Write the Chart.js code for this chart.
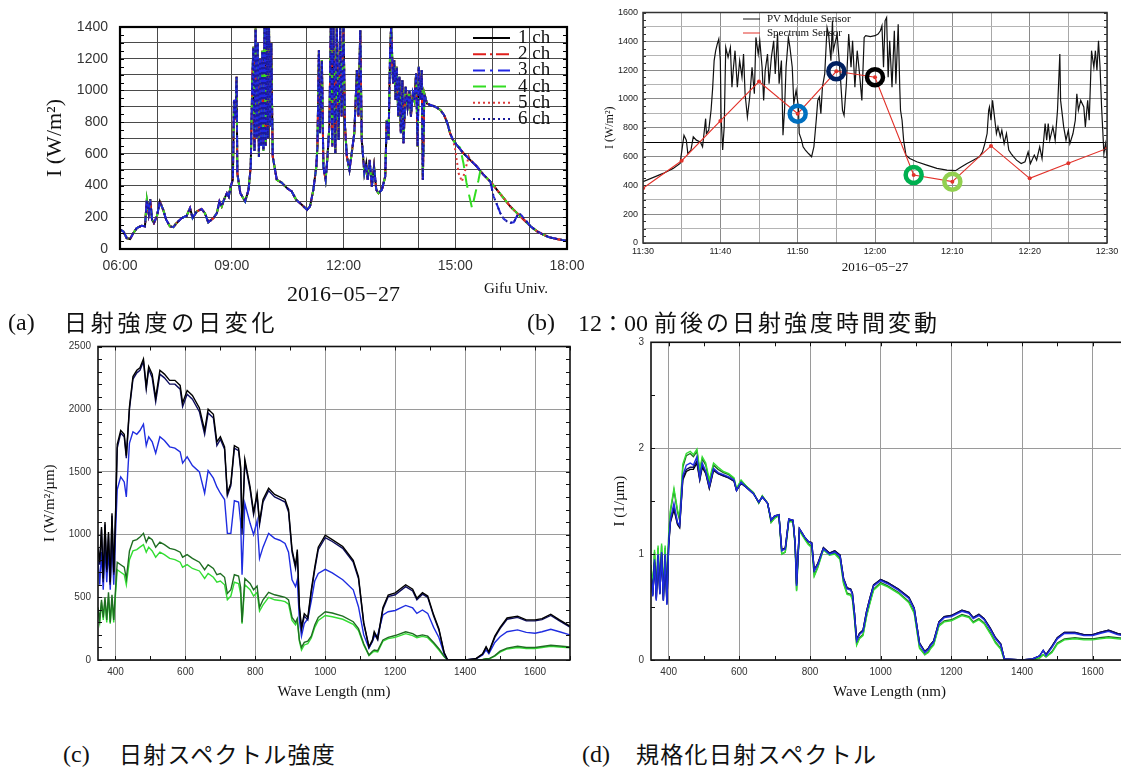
<!DOCTYPE html>
<html><head><meta charset="utf-8">
<script src="https://cdn.jsdelivr.net/npm/chart.js@4.4.0/dist/chart.umd.min.js"></script>
<style>
html,body{margin:0;padding:0;background:#fff;width:1121px;height:767px;overflow:hidden;position:relative;}
canvas{position:absolute;}
.t{position:absolute;white-space:nowrap;line-height:1;color:#111;}
.ser{font-family:"Liberation Serif","DejaVu Serif",serif;}
.jp{font-family:"Noto Sans CJK JP",sans-serif;}
</style></head><body>
<canvas id="ca" width="610" height="310" style="left:0;top:0"></canvas>
<canvas id="cb" width="546" height="290" style="left:575px;top:0"></canvas>
<canvas id="cc" width="580" height="380" style="left:0;top:330px"></canvas>
<canvas id="cd" width="580" height="380" style="left:560px;top:330px"></canvas>

<div class="t ser" style="left:484px;top:281px;font-size:15px">Gifu Univ.</div>
<div class="t ser" style="left:8px;top:310px;font-size:24px">(a)</div>
<div class="t jp" style="left:64px;top:310px;font-size:23px;letter-spacing:3.8px">日射強度の日変化</div>
<div class="t ser" style="left:527px;top:310px;font-size:24px">(b)</div>
<div class="t ser" style="left:578px;top:310px;font-size:24px">12<span class="jp" style="font-size:22px">：</span>00 <span class="jp" style="font-size:23px;letter-spacing:3px">前後の日射強度時間変動</span></div>
<div class="t ser" style="left:63px;top:742px;font-size:24px">(c)</div>
<div class="t jp" style="left:119px;top:742px;font-size:23px;letter-spacing:1.3px">日射スペクトル強度</div>
<div class="t ser" style="left:582px;top:742px;font-size:24px">(d)</div>
<div class="t jp" style="left:636px;top:742px;font-size:23px;letter-spacing:1.3px">規格化日射スペクトル</div>

<script>
// ---------------- Panel (a): daily irradiance, 6 channels ----------------
const aTime = [6.00,6.09,6.18,6.27,6.36,6.45,6.58,6.67,6.72,6.77,6.81,6.86,6.91,6.99,7.07,7.16,7.24,7.34,7.43,7.52,7.66,7.79,7.88,7.95,8.06,8.19,8.28,8.37,8.51,8.60,8.67,8.73,8.79,8.87,8.92,8.97,9.03,9.06,9.10,9.13,9.15,9.23,9.36,9.45,9.51,9.55,9.58,9.61,9.64,9.67,9.70,9.73,9.76,9.79,9.82,9.85,9.88,9.91,9.94,9.97,10.00,10.03,10.06,10.10,10.21,10.34,10.48,10.61,10.73,10.88,11.02,11.10,11.19,11.27,11.30,11.34,11.37,11.42,11.46,11.52,11.57,11.62,11.66,11.70,11.73,11.78,11.82,11.87,11.91,11.95,12.00,12.04,12.09,12.16,12.22,12.29,12.36,12.40,12.45,12.49,12.56,12.61,12.65,12.70,12.76,12.82,12.88,12.94,13.03,13.12,13.16,13.21,13.25,13.28,13.33,13.36,13.40,13.43,13.47,13.50,13.54,13.58,13.61,13.67,13.72,13.77,13.81,13.86,13.90,13.95,13.99,14.02,14.06,14.10,14.13,14.17,14.24,14.33,14.46,14.60,14.70,14.79,14.86,14.94,15.04,15.22,15.40,15.58,15.76,15.94,16.12,16.30,16.48,16.66,16.84,17.02,17.20,17.37,17.51,17.75,18.00];
const aBase = [122,111,69,63,101,132,147,143,310,226,315,185,164,205,300,247,185,143,138,164,195,210,258,195,237,252,226,168,195,226,300,268,310,352,331,394,436,940,814,1086,478,352,300,373,520,1044,1275,620,1390,700,1300,580,1200,650,1250,620,1410,650,1410,700,1410,772,1300,583,436,419,384,363,310,279,247,268,373,520,646,1254,730,1191,520,436,583,772,1410,646,1410,604,1410,688,1410,835,1410,772,583,499,604,730,1128,835,1380,688,478,541,436,562,394,520,373,352,373,457,814,688,1233,1410,1044,1191,940,1149,835,1086,730,1065,667,1023,898,1002,835,981,940,1107,646,1149,940,1128,436,981,918,908,898,877,845,793,730,688,656,604,562,520,468,426,373,321,268,226,185,143,111,90,75,62,52];
// channel-specific deviations
const aBlueDipTime = [15.94,16.03,16.12,16.21,16.30,16.39,16.48,16.57,16.64,16.70,16.77,16.84,16.93,17.02];
const aBlueDipVal  = [426,331,280,226,190,174,165,168,200,226,215,195,170,143];
const aGreenDipTime = [15.04,15.13,15.22,15.30,15.36,15.45,15.54,15.62,15.67,15.76];
const aGreenDipVal  = [656,640,541,420,352,258,352,430,489,468];
const aRedDipTime = [14.94,15.00,15.09,15.18,15.27,15.36,15.40];
const aRedDipVal  = [688,625,478,426,499,583,562];
const aChannels = ['1 ch','2 ch','3 ch','4 ch','5 ch','6 ch'];
const aHourTicks = [6,7,8,9,10,11,12,13,14,15,16,17,18];
const aValTicks = [0,100,200,300,400,500,600,700,800,900,1000,1100,1200,1300,1400];

// ---------------- Panel (b): around 12:00 ----------------
const bTime = [0,2.6,3.9,4.8,5.0,5.3,5.6,5.8,6.2,6.5,6.9,7.4,7.7,8.1,8.2,8.5,8.8,9.0,9.2,9.4,9.6,9.8,10.0,10.1,10.3,10.5,10.7,11.0,11.3,11.5,11.7,11.9,12.2,12.5,12.8,13.0,13.2,13.5,13.8,14.1,14.4,14.6,14.9,15.1,15.4,15.6,15.8,16.1,16.3,16.6,16.9,17.1,17.4,17.6,17.9,18.1,18.3,18.5,18.8,19.0,19.3,19.5,19.8,20.1,20.2,20.5,20.7,21.0,21.4,21.8,22.1,22.4,22.6,22.8,23.0,23.2,23.5,23.8,24.0,24.3,24.5,24.6,25.1,25.5,25.8,26.0,26.3,26.6,26.9,27.1,27.4,27.7,28.0,28.3,28.6,28.8,29.4,30.0,30.4,30.7,30.9,31.1,31.3,31.5,31.7,31.9,32.2,32.5,32.7,33.0,33.2,33.3,33.5,33.7,34.0,34.5,35.4,36.7,38.0,39.3,40.4,41.2,41.9,42.7,43.5,43.9,44.2,44.5,44.7,44.8,45.0,45.2,45.4,45.7,45.9,46.2,46.4,46.7,47.0,47.3,47.6,47.9,48.3,48.9,49.4,49.8,50.1,50.6,50.9,51.3,51.6,52.0,52.2,52.4,52.6,53.0,53.3,53.6,53.9,54.0,54.4,54.7,55.0,55.2,55.6,55.9,56.1,56.3,56.6,57.0,57.2,57.5,57.7,58.0,58.3,58.5,58.7,58.9,59.1,59.3,59.6,59.8,60.0];
const bPV = [426,483,518,552,633,748,714,621,645,737,714,702,668,863,760,783,921,1070,1266,1335,1381,1416,1266,875,645,806,1358,1289,1358,1082,1220,1335,1082,1266,1151,1312,1036,875,1013,1220,1036,1427,1312,1404,1220,990,1197,1312,1105,1289,1404,1174,1450,1105,1266,748,921,1220,1427,1358,1220,967,1059,944,760,714,668,645,621,599,668,852,990,1013,898,1082,1174,1496,1450,1266,1542,1335,1450,1174,921,886,1105,1450,1220,1404,1082,1335,1174,990,1427,1439,1432,1439,1450,1473,1508,1220,1542,1565,1151,1404,1082,1473,1105,1519,1082,921,852,714,610,587,564,541,518,506,502,529,552,575,599,633,690,760,921,944,852,990,898,760,806,737,783,690,760,645,621,599,575,552,564,633,552,610,575,668,587,829,714,829,714,806,714,921,1312,990,806,714,783,690,760,852,1036,921,990,944,806,990,852,1335,1220,1335,1197,1404,1220,944,621,690,599];
const bSpecTime = [0,5,10,15,20,25,30,35,40,45,50,55,60];
const bSpec = [380,571,847,1121,898,1192,1151,472,426,674,449,553,656];
const bCircleTime = [20,25,30,35,40];
const bCircleColor = ['#0070c0','#002060','#000000','#00b050','#92d050'];
const bMinuteTicks = [0,5,10,15,20,25,30,35,40,45,50,55,60];
const bValTicks = [0,100,200,300,400,500,600,700,800,900,1000,1100,1200,1300,1400,1500,1600];

// ---------------- Panels (c) and (d): spectra ----------------
const wl = [350,355,360,365,370,375,380,385,390,395,400,405,415,425,431,440,450,461,470,480,488,495,505,515,527,540,555,570,585,592,605,620,640,655,665,680,690,700,712,720,730,740,752,758,762,770,785,795,805,812,822,838,855,870,885,895,905,915,920,926,932,940,950,960,970,980,1000,1020,1050,1080,1095,1110,1125,1135,1140,1150,1165,1180,1200,1230,1250,1262,1278,1293,1310,1325,1340,1350,1400,1430,1450,1460,1468,1485,1500,1520,1550,1575,1600,1620,1645,1670,1700];
const cBlack = [900,780,1060,650,1100,720,1020,620,1170,700,1150,1720,1830,1800,1630,2020,2260,2310,2330,2400,2180,2340,2280,2090,2310,2280,2230,2230,2190,2050,2150,2110,2010,1830,2000,1960,1740,1780,1700,1330,1410,1710,1690,1540,1050,1600,1380,1180,1330,1100,1280,1370,1320,1300,1280,1200,880,750,880,430,260,370,340,560,740,900,995,960,905,795,665,300,106,160,226,170,420,518,535,600,565,492,537,510,360,250,60,0,0,10,50,105,65,190,260,335,350,320,320,330,365,320,270];
const cNavy = [880,760,1040,620,1080,700,1000,600,1150,680,1130,1690,1810,1780,1610,2000,2240,2290,2310,2380,2160,2320,2250,2060,2280,2250,2200,2200,2160,2020,2120,2080,1980,1800,1970,1930,1710,1760,1680,1310,1390,1690,1670,1520,1000,1580,1360,1160,1310,1080,1260,1350,1300,1280,1260,1180,860,730,860,410,240,350,320,540,720,880,975,945,890,780,650,290,100,150,210,160,405,505,520,585,550,480,525,500,350,240,55,0,0,8,45,100,60,180,250,325,340,312,312,322,355,312,262];
const cBlue = [800,600,860,560,900,620,880,560,960,600,1000,1360,1460,1420,1300,1730,1820,1800,1830,1880,1710,1780,1740,1650,1780,1750,1700,1690,1660,1570,1620,1550,1500,1330,1510,1450,1380,1330,1280,1010,1010,1270,1260,1100,680,1250,1090,1000,1110,810,900,1010,970,955,930,860,640,585,640,320,190,290,330,470,630,690,723,695,640,560,425,200,93,150,186,200,360,385,395,435,415,372,399,372,260,180,50,0,0,8,40,80,50,140,185,225,240,220,213,225,245,225,200];
const cGreen = [420,320,480,340,500,320,540,300,520,320,560,780,760,740,650,870,950,960,980,1010,940,980,960,900,940,920,890,880,860,820,840,810,780,720,760,730,680,690,660,530,560,680,670,580,300,650,610,560,590,420,480,540,520,510,500,480,340,300,330,160,100,140,150,190,280,340,385,375,350,305,250,130,40,70,80,75,160,180,195,225,210,190,200,190,140,90,30,0,0,0,5,10,10,35,70,95,110,100,100,108,118,112,105];
const cLime = [400,300,460,320,470,300,500,290,480,300,520,720,700,680,600,800,870,880,900,920,860,900,870,820,860,840,810,800,780,740,760,730,710,650,690,660,620,630,600,480,510,620,610,530,290,600,560,510,540,390,440,500,480,475,465,445,315,280,310,150,80,120,130,175,260,315,355,345,325,285,235,120,35,60,70,65,150,170,180,210,195,178,188,178,130,80,25,0,0,0,3,8,8,30,62,88,100,92,92,100,110,104,98];
const dBlue = [0.82,0.60,0.95,0.56,1.00,0.62,1.02,0.56,1.00,0.52,1.10,1.33,1.48,1.30,1.27,1.74,1.84,1.86,1.84,1.92,1.72,1.86,1.78,1.64,1.81,1.77,1.75,1.73,1.70,1.60,1.68,1.63,1.57,1.49,1.54,1.48,1.32,1.36,1.37,1.03,1.05,1.33,1.32,1.10,0.70,1.24,1.16,1.12,1.10,0.84,0.90,1.05,1.00,1.02,0.98,0.76,0.67,0.66,0.62,0.43,0.18,0.24,0.27,0.45,0.58,0.70,0.75,0.72,0.66,0.58,0.48,0.15,0.07,0.10,0.13,0.17,0.35,0.40,0.41,0.46,0.44,0.39,0.42,0.38,0.29,0.20,0.14,0.01,0.00,0.01,0.04,0.09,0.04,0.12,0.20,0.25,0.25,0.23,0.23,0.25,0.27,0.24,0.22];
const dBlack = [0.80,0.62,0.92,0.58,0.98,0.63,1.00,0.57,0.98,0.54,1.08,1.30,1.42,1.28,1.25,1.70,1.78,1.80,1.80,1.86,1.70,1.82,1.76,1.62,1.79,1.76,1.74,1.72,1.69,1.60,1.67,1.63,1.57,1.49,1.54,1.48,1.32,1.36,1.37,1.04,1.06,1.33,1.32,1.10,0.72,1.24,1.16,1.12,1.11,0.85,0.91,1.06,1.01,1.03,0.99,0.77,0.68,0.67,0.63,0.44,0.19,0.25,0.28,0.46,0.59,0.71,0.76,0.73,0.67,0.59,0.49,0.16,0.08,0.11,0.14,0.18,0.36,0.41,0.42,0.47,0.45,0.40,0.43,0.39,0.30,0.21,0.15,0.01,0.00,0.01,0.04,0.09,0.05,0.13,0.21,0.26,0.26,0.24,0.24,0.26,0.28,0.25,0.23];
const dNavy = [0.81,0.61,0.93,0.57,0.99,0.62,1.01,0.56,0.99,0.53,1.09,1.31,1.44,1.29,1.26,1.72,1.80,1.82,1.82,1.88,1.71,1.84,1.77,1.63,1.80,1.76,1.74,1.72,1.69,1.60,1.67,1.63,1.57,1.49,1.54,1.48,1.32,1.36,1.37,1.04,1.05,1.33,1.32,1.10,0.71,1.24,1.16,1.12,1.10,0.85,0.91,1.06,1.01,1.03,0.99,0.77,0.68,0.67,0.63,0.44,0.19,0.25,0.28,0.46,0.59,0.71,0.76,0.73,0.67,0.59,0.49,0.16,0.08,0.11,0.14,0.18,0.36,0.41,0.42,0.47,0.45,0.40,0.43,0.39,0.30,0.21,0.15,0.01,0.00,0.01,0.04,0.09,0.05,0.13,0.21,0.26,0.26,0.24,0.24,0.26,0.28,0.25,0.23];
const dGreen = [0.88,0.66,1.02,0.62,1.06,0.66,1.08,0.60,1.06,0.56,1.16,1.40,1.60,1.40,1.32,1.82,1.93,1.95,1.92,1.97,1.78,1.90,1.84,1.68,1.84,1.80,1.77,1.75,1.71,1.61,1.69,1.64,1.58,1.48,1.55,1.48,1.30,1.34,1.37,1.00,1.02,1.32,1.31,1.08,0.66,1.23,1.15,1.10,1.07,0.80,0.88,1.05,1.00,1.01,0.96,0.73,0.63,0.62,0.58,0.39,0.15,0.21,0.24,0.42,0.55,0.67,0.73,0.70,0.64,0.55,0.45,0.12,0.05,0.08,0.11,0.15,0.33,0.37,0.38,0.43,0.41,0.36,0.39,0.35,0.26,0.17,0.11,0.00,0.00,0.00,0.02,0.05,0.03,0.08,0.16,0.20,0.21,0.20,0.20,0.21,0.22,0.21,0.20];
const dLime = [0.90,0.68,1.04,0.64,1.08,0.68,1.10,0.62,1.08,0.58,1.18,1.42,1.62,1.42,1.34,1.85,1.95,1.97,1.94,1.99,1.80,1.92,1.86,1.70,1.86,1.82,1.78,1.76,1.72,1.62,1.70,1.64,1.58,1.48,1.55,1.48,1.30,1.34,1.36,1.00,1.02,1.31,1.30,1.07,0.65,1.22,1.14,1.09,1.06,0.79,0.87,1.04,0.99,1.00,0.95,0.72,0.62,0.61,0.57,0.38,0.14,0.20,0.23,0.41,0.54,0.66,0.72,0.69,0.63,0.54,0.44,0.11,0.05,0.07,0.10,0.14,0.32,0.36,0.37,0.42,0.40,0.35,0.38,0.34,0.25,0.16,0.10,0.00,0.00,0.00,0.02,0.05,0.03,0.07,0.15,0.19,0.20,0.19,0.19,0.20,0.21,0.20,0.19];
const wlTicks = [400,600,800,1000,1200,1400,1600];
const cValTicks = [0,500,1000,1500,2000,2500];
const dValTicks = [0,1,2,3];

// ---------------- helpers ----------------
const SANS = 'Liberation Sans', SERIF = 'Liberation Serif';
function pts(xs, ys){ return xs.map((x,i)=>({x:x, y:ys[i]})); }
function withSegment(bt, bv, st, sv){
  const t0 = st[0], t1 = st[st.length-1], out = [];
  bt.forEach((t,i)=>{ if (t < t0) out.push({x:t, y:bv[i]}); });
  st.forEach((t,i)=>out.push({x:t, y:sv[i]}));
  bt.forEach((t,i)=>{ if (t > t1) out.push({x:t, y:bv[i]}); });
  return out;
}
function fixTicks(list){ return s => { s.ticks = list.map(v=>({value:v})); }; }
function fitY(w){ return s => { s.width = w; s.paddingTop = 0; s.paddingBottom = 0; }; }
function fitX(h){ return s => { s.height = h; s.paddingLeft = 0; s.paddingRight = 0; }; }

const framePlugin = {
  id: 'frame',
  afterDatasetsDraw(chart, args, o){
    const {ctx, chartArea:a, scales} = chart;
    ctx.save();
    ctx.strokeStyle = o.color; ctx.lineWidth = o.width;
    ctx.strokeRect(a.left, a.top, a.right - a.left, a.bottom - a.top);
    ctx.lineWidth = 1;
    const L = o.len || 4;
    if (o.yMinor){
      const ys = scales.y;
      for (let v = ys.min; v <= ys.max + 1e-9; v += o.yMinor){
        const y = Math.round(ys.getPixelForValue(v)) + 0.5;
        ctx.beginPath();
        ctx.moveTo(a.left, y); ctx.lineTo(a.left + L, y);
        ctx.moveTo(a.right, y); ctx.lineTo(a.right - L, y);
        ctx.stroke();
      }
    }
    if (o.xMinor){
      const xs = scales.x;
      const start = Math.ceil(xs.min / o.xMinor) * o.xMinor;
      for (let v = start; v <= xs.max + 1e-9; v += o.xMinor){
        const x = Math.round(xs.getPixelForValue(v)) + 0.5;
        ctx.beginPath();
        ctx.moveTo(x, a.top); ctx.lineTo(x, a.top + L);
        ctx.moveTo(x, a.bottom); ctx.lineTo(x, a.bottom - L);
        ctx.stroke();
      }
    }
    ctx.restore();
  }
};

const lineLegend = {
  id: 'lineLegend',
  afterDatasetsDraw(chart, args, o){
    if (o.phase !== 'after') return;
    drawLegend(chart, o);
  },
  beforeDatasetsDraw(chart, args, o){
    if (o.phase !== 'before') return;
    drawLegend(chart, o);
  }
};
function drawLegend(chart, o){
  const ctx = chart.ctx;
  ctx.save();
  ctx.font = o.font;
  ctx.textBaseline = 'middle';
  o.items.forEach((idx, k) => {
    const ds = chart.data.datasets[idx];
    const y = o.y0 + k * o.dy;
    ctx.strokeStyle = ds.borderColor;
    ctx.lineWidth = o.lw || ds.borderWidth;
    ctx.setLineDash(ds.borderDash || []);
    ctx.beginPath(); ctx.moveTo(o.x0, y); ctx.lineTo(o.x1, y); ctx.stroke();
    ctx.setLineDash([]);
    ctx.fillStyle = o.textColor || '#111';
    ctx.fillText(ds.label, o.tx, y + (o.dyText || 0));
  });
  ctx.restore();
}

const base = {
  responsive:false, animation:false, devicePixelRatio:1, events:[],
};

// ---------------- chart (a) ----------------
const aStyles = [
  {c:'#000000', d:[], o:6},
  {c:'#e0201c', d:[13,4,2,4], o:5},
  {c:'#2228e6', d:[12,5,3,5], o:2},
  {c:'#33dd22', d:[13,7], o:4},
  {c:'#dd3a3a', d:[2,3], o:3},
  {c:'#1a1a9a', d:[2,3], o:1},
];
const aData = [
  pts(aTime, aBase),
  pts(aTime, aBase),
  withSegment(aTime, aBase, aBlueDipTime, aBlueDipVal),
  withSegment(aTime, aBase, aGreenDipTime, aGreenDipVal),
  withSegment(aTime, aBase, aRedDipTime, aRedDipVal),
  withSegment(aTime, aBase, aBlueDipTime, aBlueDipVal),
];
new Chart(document.getElementById('ca'), {
  type:'line',
  data:{ datasets: aChannels.map((name,i)=>({
    label:name, data:aData[i], borderColor:aStyles[i].c, borderDash:aStyles[i].d,
    borderWidth:2, pointRadius:0, tension:0, order:aStyles[i].o, fill:false
  }))},
  options:Object.assign({}, base, {
    layout:{padding:{left:0, top:27, right:43, bottom:0}},
    scales:{
      x:{type:'linear', min:6, max:18, afterBuildTicks:fixTicks(aHourTicks), afterFit:fitX(61),
        grid:{color:'#4a4a4a', lineWidth:1, drawTicks:false}, border:{display:false},
        ticks:{autoSkip:false, maxRotation:0, padding:9, color:'#333', font:{family:SANS, size:14},
          callback:v => (v % 3 === 0) ? String(v).padStart(2,'0') + ':00' : ''},
        title:{display:true, text:'2016\u221205\u221227', color:'#111', font:{family:SERIF, size:22}, padding:{top:0, bottom:2}}
      },
      y:{type:'linear', min:0, max:1400, afterBuildTicks:fixTicks(aValTicks), afterFit:fitY(120),
        grid:{color:'#4a4a4a', lineWidth:1, drawTicks:false}, border:{display:false},
        ticks:{autoSkip:false, padding:12, color:'#333', font:{family:SANS, size:14},
          callback:v => (v % 200 === 0) ? String(v) : ''},
        title:{display:true, text:'I (W/m\u00b2)', color:'#111', font:{family:SERIF, size:22}, padding:{top:42, bottom:0}}
      }
    },
    plugins:{ legend:{display:false}, tooltip:{enabled:false},
      frame:{color:'#000', width:2.2, yMinor:50, len:4},
      lineLegend:{phase:'after', items:[0,1,2,3,4,5], x0:473, x1:510, tx:518, y0:38, dy:16.2, font:'19px "Liberation Serif"', lw:2}
    }
  }),
  plugins:[framePlugin, lineLegend]
});

// ---------------- chart (b) ----------------
function clock(m){ const t = 11*60 + 30 + m; return Math.floor(t/60) + ':' + String(t%60).padStart(2,'0'); }
const bCircleVal = bCircleTime.map(t => bSpec[bSpecTime.indexOf(t)]);
new Chart(document.getElementById('cb'), {
  type:'line',
  data:{ datasets:[
    {label:'PV Module Sensor', data:pts(bTime, bPV), borderColor:'#111', borderWidth:1.2, pointRadius:0, tension:0, order:3},
    {label:'Spectrum Sensor', data:pts(bSpecTime, bSpec), borderColor:'#e2332b', borderWidth:1.1, pointRadius:2, pointBorderWidth:0, pointBackgroundColor:'#e2332b', tension:0, order:2},
    {label:'marks', data:pts(bCircleTime, bCircleVal), showLine:false, pointRadius:8, pointBorderWidth:4.5,
      pointBorderColor:bCircleColor, pointBackgroundColor:'rgba(0,0,0,0)', order:1}
  ]},
  options:Object.assign({}, base, {
    layout:{padding:{left:0, top:12, right:14, bottom:0}},
    scales:{
      x:{type:'linear', min:0, max:60, afterBuildTicks:fixTicks(bMinuteTicks), afterFit:fitX(47),
        grid:{color:ctx => (ctx.tick && ctx.tick.value % 10 === 0) ? '#8a8a8a' : '#a8a8a8', lineWidth:1, drawTicks:false}, border:{display:false},
        ticks:{autoSkip:false, maxRotation:0, padding:3, color:'#222', font:{family:SANS, size:9},
          callback:v => (v % 10 === 0) ? clock(v) : ''},
        title:{display:true, text:'2016\u221205\u221227', color:'#111', font:{family:SERIF, size:13}, padding:{top:0, bottom:15}}
      },
      y:{type:'linear', min:0, max:1600, afterBuildTicks:fixTicks(bValTicks), afterFit:fitY(68),
        grid:{color:ctx => { const v = ctx.tick ? ctx.tick.value : 0; return v === 700 ? '#000' : (v % 200 === 0 ? '#8a8a8a' : '#b4b4b4'); }, lineWidth:1, drawTicks:false}, border:{display:false},
        ticks:{autoSkip:false, padding:5, color:'#222', font:{family:SANS, size:9},
          callback:v => (v % 200 === 0) ? String(v) : ''},
        title:{display:true, text:'I (W/m\u00b2)', color:'#111', font:{family:SERIF, size:12}, padding:{top:28, bottom:0}}
      }
    },
    plugins:{ legend:{display:false}, tooltip:{enabled:false},
      frame:{color:'#333', width:1.5, yMinor:50, len:3},
      lineLegend:{phase:'before', items:[0,1], x0:168, x1:185, tx:192, y0:19, dy:14, font:'11px "Liberation Serif"', lw:1}
    }
  }),
  plugins:[framePlugin, lineLegend]
});

// ---------------- charts (c) and (d) ----------------
const specColors = {black:'#000000', navy:'#0d0d5e', blue:'#1f2de0', green:'#1f6e22', lime:'#33dd33'};
function specChart(id, series, yMax, yTicks, yMinor, yTitle, yWidth, yTitlePad, padTop, padRight, yFmt){
  new Chart(document.getElementById(id), {
    type:'line',
    data:{ datasets: series.map(s => ({label:s.name, data:pts(wl, s.v), borderColor:s.c, borderWidth:1.4, pointRadius:0, tension:0, order:s.o})) },
    options:Object.assign({}, base, {
      layout:{padding:{left:0, top:padTop, right:padRight, bottom:0}},
      scales:{
        x:{type:'linear', min:350, max:1700, afterBuildTicks:fixTicks(wlTicks), afterFit:fitX(50),
          grid:{color:'#9a9a9a', lineWidth:1, drawTicks:false}, border:{display:false},
          ticks:{autoSkip:false, maxRotation:0, padding:6, color:'#333', font:{family:SANS, size:10}, callback:v => String(v)},
          title:{display:true, text:'Wave Length (nm)', color:'#111', font:{family:SERIF, size:15}, padding:{top:0, bottom:9}}
        },
        y:{type:'linear', min:0, max:yMax, afterBuildTicks:fixTicks(yTicks), afterFit:fitY(yWidth),
          grid:{color:'#9a9a9a', lineWidth:1, drawTicks:false}, border:{display:false},
          ticks:{autoSkip:false, padding:7, color:'#333', font:{family:SANS, size:10}, callback:yFmt},
          title:{display:true, text:yTitle, color:'#111', font:{family:SERIF, size:15}, padding:{top:yTitlePad, bottom:0}}
        }
      },
      plugins:{ legend:{display:false}, tooltip:{enabled:false},
        frame:{color:'#111', width:1.6, yMinor:yMinor, xMinor:100, len:4}
      }
    }),
    plugins:[framePlugin]
  });
}
specChart('cc', [
  {name:'12:00', v:cBlack, c:specColors.black, o:1},
  {name:'11:55', v:cNavy, c:specColors.navy, o:2},
  {name:'11:50', v:cBlue, c:specColors.blue, o:3},
  {name:'12:05', v:cGreen, c:specColors.green, o:4},
  {name:'12:10', v:cLime, c:specColors.lime, o:5},
], 2500, cValTicks, 100, 'I (W/m\u00b2/\u00b5m)', 98, 41, 16.5, 10, v => String(v));
specChart('cd', [
  {name:'12:00', v:dBlack, c:specColors.black, o:3},
  {name:'11:55', v:dNavy, c:specColors.navy, o:2},
  {name:'11:50', v:dBlue, c:specColors.blue, o:1},
  {name:'12:05', v:dGreen, c:specColors.green, o:5},
  {name:'12:10', v:dLime, c:specColors.lime, o:4},
], 3, dValTicks, 0.5, 'I (1/\u00b5m)', 91, 51, 12.3, 12, v => String(v));
</script>
</body></html>
